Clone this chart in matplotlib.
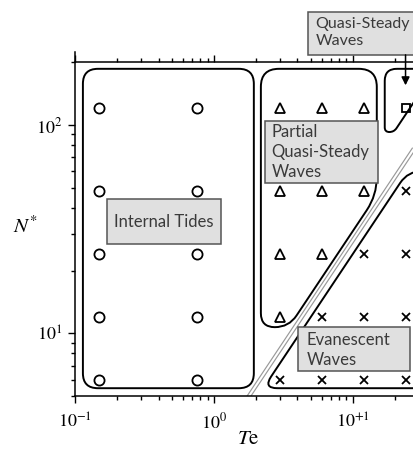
import numpy as np
import matplotlib
matplotlib.use("Agg")
import matplotlib.pyplot as plt
from matplotlib.path import Path
from matplotlib.patches import PathPatch, Rectangle
from matplotlib.transforms import IdentityTransform
from matplotlib.ticker import FixedLocator, NullFormatter

plt.rcParams['mathtext.fontset'] = 'stix'

# sample points (Te, N*)
circle_te = [0.15, 0.75]
n_levels = [6, 12, 24, 48, 120]
tri_te = [3, 6, 12, 3, 6, 12, 3, 6, 3]
tri_n = [120, 120, 120, 48, 48, 48, 24, 24, 12]
sq_te = [24]
sq_n = [120]
x_te = [24, 12, 24, 6, 12, 24, 3, 6, 12, 24]
x_n = [48, 24, 24, 12, 12, 12, 6, 6, 6, 6]

# boundary N* = c * Te
boundary_c = 2.79
boundary_te = [1.6, 30]

# regime outlines, data coords
c2, c3, c4 = 3.09, 4.67, 2.4
region_internal = [(0.114, 186), (1.94, 186), (1.94, 5.45), (0.114, 5.45)]
region_partial = [(2.18, 186), (14.9, 186), (14.9, 14.9 * c2), (10.7 / c2, 10.7), (2.18, 10.7)]
region_quasi = [(17.0, 186), (17.0, 92.5), (92.5 / c3, 92.5), (186 / c3, 186)]
region_evan = [(5.45 / c4, 5.45), (60 / c4, 60), (40, 60), (40, 5.45)]

fig = plt.figure(figsize=(4.13, 4.5), dpi=100)
ax = fig.add_axes([75 / 413, 54 / 450, 344 / 413, 344 / 450])
ax.set_xscale('log')
ax.set_yscale('log')
ax.set_xlim(0.1, 30)
ax.set_ylim(5, 224)
ax.spines['right'].set_visible(False)
ax.spines['top'].set_position(('data', 200))
for s in ['left', 'bottom', 'top']:
    ax.spines[s].set_linewidth(1.1)

ax.xaxis.set_major_locator(FixedLocator([0.1, 1, 10]))
ax.set_xticklabels(['$10^{-1}$', '$10^{0}$', '$10^{+1}$'])
ax.yaxis.set_major_locator(FixedLocator([10, 100]))
ax.set_yticklabels(['$10^{1}$', '$10^{2}$'])
ax.xaxis.set_minor_formatter(NullFormatter())
ax.yaxis.set_minor_formatter(NullFormatter())
ax.tick_params(which='both', direction='out', top=True, right=False, labelsize=13, width=1)
ax.tick_params(which='major', length=5, pad=4)
ax.tick_params(axis='x', which='major', pad=7)
ax.tick_params(which='minor', length=3)

# markers
cte, cn = np.meshgrid(circle_te, n_levels)
mk = dict(linestyle='none', markerfacecolor='none', markeredgecolor='black', markeredgewidth=1.3, zorder=5)
ax.plot(cte.ravel(), cn.ravel(), marker='o', markersize=7.3, **mk)
ax.plot(tri_te, tri_n, marker='^', markersize=7.3, **mk)
ax.plot(sq_te, sq_n, marker='s', markersize=6, **mk)
ax.plot(x_te, x_n, marker='x', markersize=6, **mk)

# boundary double line
bn = [boundary_c * t for t in boundary_te]
ax.plot(boundary_te, bn, color='#999999', lw=3.2, solid_capstyle='butt', zorder=2)
ax.plot(boundary_te, bn, color='white', lw=1.5, solid_capstyle='butt', zorder=2)


def rounded(pts, r):
    p = ax.transData.transform(np.array(pts, dtype=float))
    n = len(p)
    verts, codes = [], []
    for i in range(n):
        a, b, c = p[i - 1], p[i], p[(i + 1) % n]
        d1, d2 = a - b, c - b
        l1, l2 = np.hypot(*d1), np.hypot(*d2)
        rr = min(r, l1 / 2, l2 / 2)
        s = b + d1 / l1 * rr
        e = b + d2 / l2 * rr
        verts.append(s)
        codes.append(Path.MOVETO if i == 0 else Path.LINETO)
        verts += [b, e]
        codes += [Path.CURVE3, Path.CURVE3]
    verts.append(verts[0])
    codes.append(Path.CLOSEPOLY)
    return Path(verts, codes)


for pts, r in [(region_internal, 15), (region_partial, 18), (region_quasi, 12), (region_evan, 14)]:
    ax.add_patch(PathPatch(rounded(pts, r), transform=IdentityTransform(), facecolor='none',
                           edgecolor='black', lw=1.4, zorder=3, clip_on=False))

# label boxes
box_kw = dict(facecolor='#e0e0e0', edgecolor='#555555', lw=1.1, zorder=6, clip_on=False)
txt_kw = dict(family='Lato', fontsize=12, color='#3a3a3a', zorder=7, linespacing=1.3)

ax.add_patch(Rectangle((0.170, 26.8), 1.12 - 0.170, 44.0 - 26.8, **box_kw))
ax.text(0.436, 34.3, 'Internal Tides', ha='center', va='center', **txt_kw)

ax.add_patch(Rectangle((2.33, 52.6), 15.1 - 2.33, 104.5 - 52.6, **box_kw))
ax.text(2.6, 74, 'Partial\nQuasi-Steady\nWaves', ha='left', va='center', **txt_kw)

ax.add_patch(Rectangle((4.74, 217), 40 - 4.74, 349 - 217, **box_kw))
ax.text(5.4, 278, 'Quasi-Steady\nWaves', ha='left', va='center', clip_on=False,
        **dict(txt_kw, fontsize=11.5))

ax.add_patch(Rectangle((4.02, 6.56), 25.7 - 4.02, 10.7 - 6.56, **box_kw))
ax.text(4.65, 8.35, 'Evanescent\nWaves', ha='left', va='center', **txt_kw)

ax.annotate('', xy=(24, 155), xytext=(24, 217), annotation_clip=False,
            arrowprops=dict(arrowstyle='-|>', color='black', lw=1.1, mutation_scale=12, shrinkA=0, shrinkB=0),
            zorder=6)

ax.text(-0.145, 0.494, r'$N^{*}$', transform=ax.transAxes, ha='center', va='center', fontsize=15)
ax.text(0.503, -0.152, r'$T\mathrm{e}$', transform=ax.transAxes, ha='center', va='bottom', fontsize=15)

fig.savefig('out.png', dpi=100)
